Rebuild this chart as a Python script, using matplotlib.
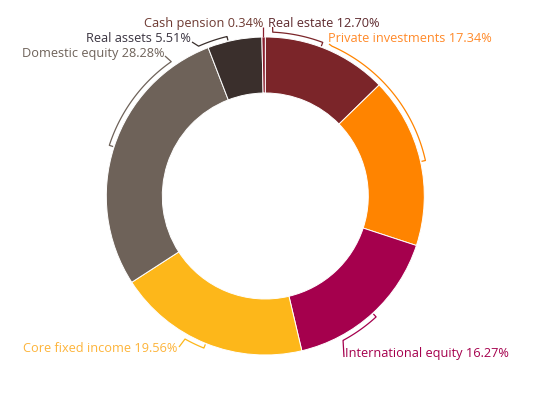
import numpy as np
import matplotlib
matplotlib.use("Agg")
import matplotlib.pyplot as plt

# Data (clockwise from 12 o'clock)
categories = ["Real estate", "Private investments", "International equity",
              "Core fixed income", "Domestic equity", "Real assets", "Cash pension"]
shares = [12.70, 17.34, 16.27, 19.56, 28.28, 5.51, 0.34]
colors = ["#7B2529", "#FF8400", "#A5004D", "#FDB71A", "#6E6259", "#3A2F2C", "#8A1E2E"]
label_colors = ["#5E2A2E", "#FF8A2A", "#A5004D", "#FDB43A", "#6E6259", "#3A3440", "#6E3A32"]

W, H = 535, 414
cx, cy = 265.3, 197.0     # pixel coords (y down)
r_out, r_in = 159, 103
r_br = 164

# leader layout: (slice-side angle, label-side angle, connector end, text pos, ha)
layout = {
    "Real estate":          (20.5, 2.6, (272.6, 28), (268, 23), "left"),
    "Private investments":  (77.5, 24, (329, 45), (328, 39), "left"),
    "International equity": (137.5, 151.7, (344, 358), (345, 354), "left"),
    "Core fixed income":    (202, 209.3, (179, 348), (177, 349), "right"),
    "Domestic equity":      (288, 325, (165, 57), (164, 53), "right"),
    "Real assets":          (346.5, 336, (192, 43), (191, 38), "right"),
    "Cash pension":         (None, None, (263, 28), (263, 23), "right"),
}

plt.rcParams['font.family'] = ['Open Sans', 'DejaVu Sans']

fig = plt.figure(figsize=(W / 100, H / 100), dpi=100)
ax = fig.add_axes([0, 0, 1, 1])


def Y(y):
    return H - y


def polar(theta, r):
    t = np.radians(theta)
    return cx + r * np.sin(t), Y(cy) + r * np.cos(t)


ax.pie(shares, colors=colors, startangle=90, counterclock=False,
       radius=r_out, center=(cx, Y(cy)), frame=True,
       wedgeprops=dict(width=r_out - r_in, edgecolor="white", linewidth=0.7))
ax.set_xlim(0, W)
ax.set_ylim(0, H)
ax.set_aspect('equal')
ax.axis('off')

for name, val, col, tcol in zip(categories, shares, colors, label_colors):
    a_s, a_l, conn, tpos, ha = layout[name]
    if a_s is not None:
        x0, y0 = polar(a_s, r_out + 1)
        x1, y1 = polar(a_s, r_br)
        th = np.linspace(a_s, a_l, 60)
        xs, ys = polar(th, r_br)
        lx = [x0, x1] + list(xs) + [conn[0]]
        ly = [y0, y1] + list(ys) + [Y(conn[1])]
    else:
        lx = [conn[0], conn[0]]
        ly = [Y(cy - r_out), Y(conn[1])]
    ax.plot(lx, ly, color=col, lw=0.9, solid_capstyle='butt')
    ax.text(tpos[0], Y(tpos[1]), f"{name} {val:.2f}%", color=tcol,
            fontsize=9.2, ha=ha, va="center")

fig.savefig("out.png", dpi=100)
